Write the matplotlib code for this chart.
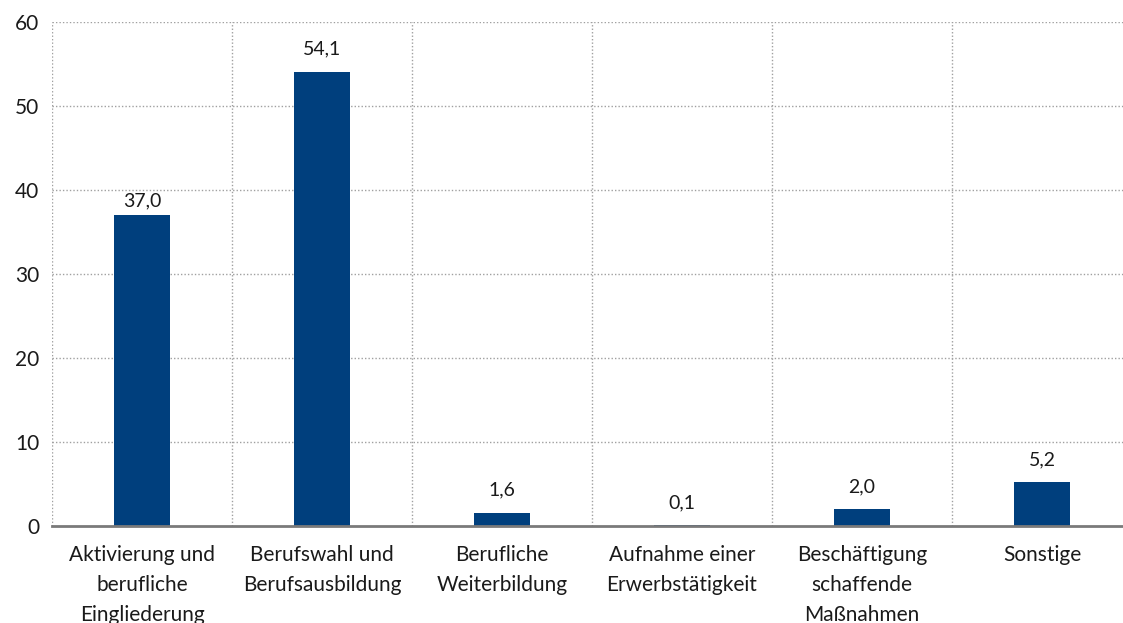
import matplotlib.pyplot as plt
import numpy as np

categories = ['Aktivierung und\nberufliche\nEingliederung',
              'Berufswahl und\nBerufsausbildung',
              'Berufliche\nWeiterbildung',
              'Aufnahme einer\nErwerbstätigkeit',
              'Beschäftigung\nschaffende\nMaßnahmen',
              'Sonstige']
values = [37.0, 54.1, 1.6, 0.1, 2.0, 5.2]
yticks = [0, 10, 20, 30, 40, 50, 60]

plt.rcParams['font.family'] = ['Lato', 'DejaVu Sans']

fig = plt.figure(figsize=(11.23, 6.23), dpi=100)
W, H = 1123, 623
ax = fig.add_axes([52 / W, (H - 526) / H, 1080 / W, 504 / H])

x = np.arange(len(values))
ax.bar(x, values, width=0.31, color='#003f7d', zorder=3)

for xi, v in zip(x, values):
    # label of the first bar sits closer (it would touch the 40 gridline)
    off = 6.5 if xi == 0 else 12.2
    ax.annotate(('%.1f' % v).replace('.', ','), (xi, v), xytext=(0, off),
                textcoords='offset points', ha='center', va='baseline',
                fontsize=14, color='#1a1a1a')

ax.set_xlim(-0.5, len(values) - 0.5)
ax.set_ylim(0, 60)
ax.set_yticks(yticks)
ax.set_yticklabels([str(t) for t in yticks], fontsize=15, color='#1a1a1a')
ax.set_xticks(x)
ax.set_xticklabels(categories, fontsize=15, color='#1a1a1a', linespacing=1.6)
ax.tick_params(axis='both', length=0)
ax.tick_params(axis='x', pad=14)
ax.tick_params(axis='y', pad=9)

# grid: horizontal at ticks, vertical between categories
for t in yticks[1:]:
    ax.axhline(t, color='#a0a0a0', linestyle=(0, (1, 1.5)), linewidth=1, zorder=1)
for b in np.arange(-0.5, len(values), 1.0):
    ax.axvline(b, color='#a0a0a0', linestyle=(0, (1, 1.5)), linewidth=1, zorder=1)

for s in ['top', 'right', 'left']:
    ax.spines[s].set_visible(False)
ax.spines['bottom'].set_color('#7a7a7a')
ax.spines['bottom'].set_linewidth(2)
ax.spines['bottom'].set_zorder(4)

fig.savefig('out.png', dpi=100)
